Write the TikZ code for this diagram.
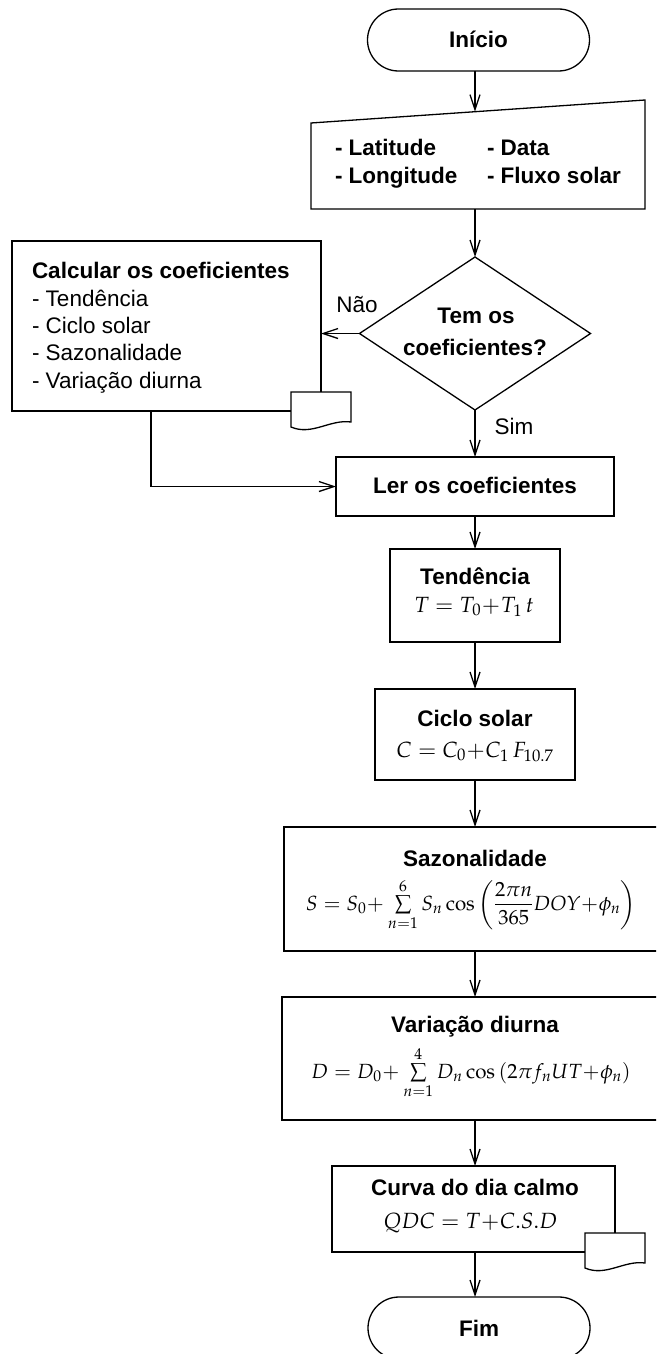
\documentclass[tikz,border=0pt]{standalone}
\usepackage{mathpazo}
\usepackage[no-math]{fontspec}
\setmainfont{Liberation Sans}
\usetikzlibrary{arrows.meta,shapes.geometric}
\begin{document}
\begin{tikzpicture}[x=1pt,y=-1pt,
  every node/.style={inner sep=0pt, outer sep=0pt},
  ln/.style={line width=1.3pt, draw=black},
  arr/.style={line width=1.3pt, draw=black, -{Straight Barb[length=15pt,width=10pt,line width=1.3pt]}},
  box/.style={draw=black, line width=1.3pt, fill=white, rectangle},
  term/.style={draw=black, line width=1.3pt, rectangle, rounded corners=31pt, minimum width=222pt, minimum height=62pt},
  ttl/.style={font=\fontsize{22.5}{27.5}\selectfont\bfseries, anchor=base},
  ttlw/.style={font=\fontsize{22.5}{27.5}\selectfont\bfseries, anchor=base west},
  txt/.style={font=\fontsize{22.5}{27.5}\selectfont, anchor=base west},
  lbl/.style={font=\fontsize{22.5}{27.5}\selectfont, anchor=base},
  frm/.style={font=\fontsize{22}{26}\selectfont, anchor=base},
  frms/.style={font=\fontsize{20.5}{24}\selectfont, anchor=base},
  docsym/.pic={\draw[line width=1.3pt, draw=black, fill=white] (0,35) -- (0,0) -- (60,0) -- (60,30) .. controls (39,27) and (21,44) .. (0,35) -- cycle;}
]
\useasboundingbox (0,0) rectangle (656,1354);
\clip (0,0) rectangle (656,1354);

% start
\node[term] (start) at (478.5,40) {};
\node[ttl] (startT) at (478.5,48) {Início};

% manual input
\coordinate (inTL) at (311,123);
\coordinate (inTR) at (645,100);
\coordinate (inBR) at (645,209);
\coordinate (inBL) at (311,209);
\draw[ln] (inTL) -- (inTR) -- (inBR) -- (inBL) -- cycle;
\coordinate (inTop) at (475,111.7);
\coordinate (inBot) at (475,209);
\node[ttlw] (lat) at (335,155) {- Latitude};
\node[ttlw] (dat) at (487,155) {- Data};
\node[ttlw] (lon) at (335,183) {- Longitude};
\node[ttlw] (flx) at (487,183) {- Fluxo solar};

% decision
\node[draw=black, line width=1.3pt, diamond, aspect=1.5, minimum width=231pt, minimum height=153pt] (dec) at (475,333.5) {};
\node[ttl] (decA) at (476,323) {Tem os};
\node[ttl] (decB) at (475,355) {coeficientes?};
\node[lbl] (nao) at (357,312) {Não};
\node[lbl] (sim) at (514,434) {Sim};

% calc box
\node[box, minimum width=309pt, minimum height=170pt] (calc) at (166.5,326) {};
\node[ttlw] (calc1) at (32,278) {Calcular os coeficientes};
\node[txt] (calc2) at (32,306) {- Tendência};
\node[txt] (calc3) at (32,333) {- Ciclo solar};
\node[txt] (calc4) at (32,360) {- Sazonalidade};
\node[txt] (calc5) at (32,388) {- Variação diurna};

% ler
\node[box, minimum width=278pt, minimum height=59pt] (ler) at (475,486.5) {};
\node[ttl] (lerT) at (475,493) {Ler os coeficientes};

% tendencia
\node[box, minimum width=170pt, minimum height=93pt] (tend) at (475,595.5) {};
\node[ttl] (tendT) at (475,584) {Tendência};
\node[frm] (tendF) at (474,612) {$T = T_0\!+\!T_1\,t$};

% ciclo
\node[box, minimum width=200pt, minimum height=91pt] (ciclo) at (475,734.5) {};
\node[ttl] (cicloT) at (475,726) {Ciclo solar};
\node[frm] (cicloF) at (475,757) {$C = C_0\!+\!C_1\,F_{10.7}$};

% sazonalidade
\node[box, minimum width=382pt, minimum height=124pt] (saz) at (475,889) {};
\node[ttl] (sazT) at (475,866) {Sazonalidade};
\node[frms] (sazF) at (471,910) {$S = S_0\!+\sum\limits_{n=1}^{6} S_n\cos\left({\displaystyle\frac{2\pi n}{365}}DOY\!+\!\phi_n\right)$};

% variacao
\node[box, minimum width=386pt, minimum height=123pt] (var) at (475,1058.5) {};
\node[ttl] (varT) at (475,1032) {Variação diurna};
\node[frms] (varF) at (471,1078) {$D = D_0\!+\sum\limits_{n=1}^{4} D_n\cos\,(2\pi f_n UT\!+\!\phi_n)$};

% curva
\node[box, minimum width=283pt, minimum height=86pt] (curva) at (473.5,1209) {};
\node[ttl] (curvaT) at (475,1195) {Curva do dia calmo};
\node[frm] (curvaF) at (470.5,1228) {$QDC = T\!+\!C.S.D$};

% fim
\node[term] (fim) at (479,1328) {};
\node[ttl] (fimT) at (479,1336) {Fim};

% connectors
\draw[arr] (start.south -| inTop) -- (inTop);
\draw[arr] (inBot) -- (dec.north);
\draw[arr] (dec.west) -- (dec.west -| calc.east);
\draw[arr] (dec.south) -- (ler.north);
\draw[arr] ([xshift=-15.5pt]calc.south) |- (ler.west);
\draw[arr] (ler.south) -- (tend.north);
\draw[arr] (tend.south) -- (ciclo.north);
\draw[arr] (ciclo.south) -- (saz.north);
\draw[arr] (saz.south) -- (var.north);
\draw[arr] (var.south) -- (var.south |- curva.north);
\draw[arr] (var.south |- curva.south) -- (var.south |- fim.north);

% document symbols
\pic (docA) at (291,392) {docsym};
\pic (docB) at (585,1233) {docsym};
\end{tikzpicture}
\end{document}
